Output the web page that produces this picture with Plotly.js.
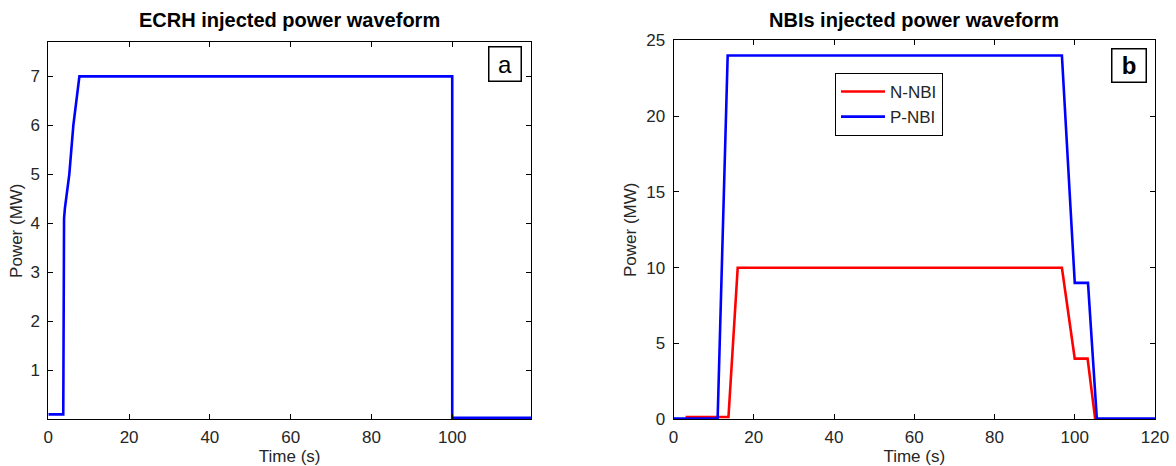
<!DOCTYPE html>
<html>
<head>
<meta charset="utf-8">
<script src="https://cdn.plot.ly/plotly-3.0.1.min.js"></script>
<style>html,body{margin:0;padding:0;background:#fff;}#chart{width:1176px;height:466px;}</style>
</head>
<body>
<div id="chart"></div>
<script>
// ---- data ----
const ecrhTime  = [0, 3.7, 3.75, 3.8, 3.9, 4.1, 5.2, 6.2, 7.7, 100, 100, 119.5];
const ecrhPower = [0.1, 0.1, 1.0, 2.1, 4.1, 4.3, 5.0, 6.0, 7.0, 7.0, 0.03, 0.03];

const nnbiTime  = [3, 13.7, 16.0, 96.8, 100.0, 103.2, 105.1, 120];
const nnbiPower = [0.15, 0.15, 10, 10, 4, 4, 0, 0];

const pnbiTime  = [0, 11.0, 13.5, 96.8, 100.0, 103.3, 105.5, 120];
const pnbiPower = [0.05, 0.05, 24, 24, 9, 9, 0.05, 0.05];

const ecrhTicksX = [0, 20, 40, 60, 80, 100];
const ecrhTicksY = [1, 2, 3, 4, 5, 6, 7];
const nbiTicksX  = [0, 20, 40, 60, 80, 100, 120];
const nbiTicksY  = [0, 5, 10, 15, 20, 25];

const titles = ['ECRH injected power waveform', 'NBIs injected power waveform'];
const panelLabels = ['a', 'b'];
const seriesNames = ['N-NBI', 'P-NBI'];

// ---- chart ----
const FONT = 'Liberation Sans, Arial, Helvetica, sans-serif';
const W = 1176, H = 466;
const px = v => v / W, py = v => 1 - v / H;

const traces = [
  {x: ecrhTime, y: ecrhPower, xaxis: 'x', yaxis: 'y', mode: 'lines',
   line: {color: '#0000ff', width: 2.6}, showlegend: false, hoverinfo: 'skip'},
  {x: nnbiTime, y: nnbiPower, xaxis: 'x2', yaxis: 'y2', mode: 'lines', name: seriesNames[0],
   line: {color: '#ff0000', width: 2.6}},
  {x: pnbiTime, y: pnbiPower, xaxis: 'x2', yaxis: 'y2', mode: 'lines', name: seriesNames[1],
   line: {color: '#0000ff', width: 2.6}}
];

const axisCommon = {
  ticks: 'inside', ticklen: 5, tickwidth: 1, tickcolor: '#000',
  showline: true, linecolor: '#000', linewidth: 1, mirror: 'ticks',
  showgrid: false, zeroline: false, fixedrange: true,
  tickfont: {family: FONT, size: 17, color: '#262626'},
  automargin: false
};

const layout = {
  width: W, height: H,
  margin: {l: 0, r: 0, t: 0, b: 0},
  paper_bgcolor: '#fff', plot_bgcolor: '#fff',
  font: {family: FONT, color: '#262626'},
  showlegend: true,
  legend: {
    x: px(835), y: py(73), xanchor: 'left', yanchor: 'top',
    bordercolor: '#000', borderwidth: 1, bgcolor: '#fff',
    font: {family: FONT, size: 17, color: '#262626'},
    itemwidth: 44, tracegroupgap: 0
  },
  xaxis: Object.assign({}, axisCommon, {
    domain: [px(48.3), px(531)], range: [0, 119.5], anchor: 'y',
    tickmode: 'array', tickvals: ecrhTicksX, ticklabelstandoff: 2,
    title: {text: 'Time (s)', font: {family: FONT, size: 17, color: '#262626'}, standoff: 1}
  }),
  yaxis: Object.assign({}, axisCommon, {
    domain: [1 - 419.3 / H, 1 - 42.1 / H], range: [0, 7.7], anchor: 'x',
    tickmode: 'array', tickvals: ecrhTicksY, ticklabelstandoff: 4,
    title: {text: 'Power (MW)', font: {family: FONT, size: 17, color: '#262626'}, standoff: 3}
  }),
  xaxis2: Object.assign({}, axisCommon, {
    domain: [px(673.5), px(1155)], range: [0, 120], anchor: 'y2',
    tickmode: 'array', tickvals: nbiTicksX, ticklabelstandoff: 2,
    title: {text: 'Time (s)', font: {family: FONT, size: 17, color: '#262626'}, standoff: 1}
  }),
  yaxis2: Object.assign({}, axisCommon, {
    domain: [1 - 419.3 / H, 1 - 40.3 / H], range: [0, 25], anchor: 'x2',
    tickmode: 'array', tickvals: nbiTicksY, ticklabelstandoff: 4,
    title: {text: 'Power (MW)', font: {family: FONT, size: 17, color: '#262626'}, standoff: 5}
  }),
  annotations: [
    {text: '<b>' + titles[0] + '</b>', xref: 'paper', yref: 'paper',
     x: px(289.7), y: py(20), xanchor: 'center', yanchor: 'middle', showarrow: false,
     font: {family: FONT, size: 20, color: '#000'}},
    {text: '<b>' + titles[1] + '</b>', xref: 'paper', yref: 'paper',
     x: px(914), y: py(20), xanchor: 'center', yanchor: 'middle', showarrow: false,
     font: {family: FONT, size: 20, color: '#000'}},
    {text: panelLabels[0], xref: 'paper', yref: 'paper',
     x: px(504.5), y: py(64), xanchor: 'center', yanchor: 'middle', showarrow: false,
     width: 29, height: 31, borderpad: 1, bordercolor: '#000', borderwidth: 1.5, bgcolor: '#fff',
     font: {family: FONT, size: 24, color: '#000'}},
    {text: '<b>' + panelLabels[1] + '</b>', xref: 'paper', yref: 'paper',
     x: px(1129), y: py(66), xanchor: 'center', yanchor: 'middle', showarrow: false,
     width: 31, height: 30, borderpad: 1, bordercolor: '#000', borderwidth: 1.5, bgcolor: '#fff',
     font: {family: FONT, size: 24, color: '#000'}}
  ]
};

Plotly.newPlot('chart', traces, layout, {displayModeBar: false, staticPlot: true});
</script>
</body>
</html>
